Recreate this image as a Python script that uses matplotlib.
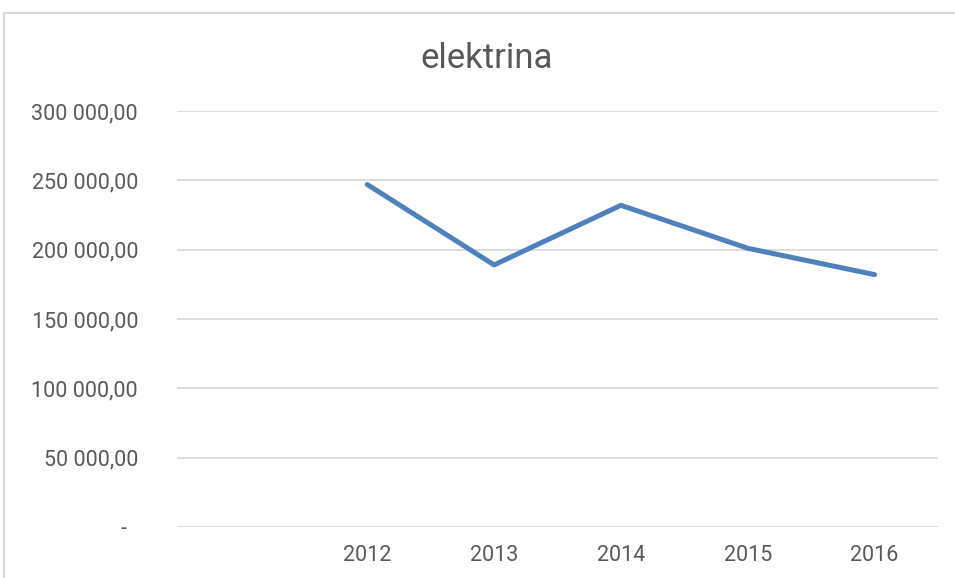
import matplotlib
matplotlib.use("Agg")
import matplotlib.pyplot as plt
from matplotlib.patches import Rectangle

years = ["", "2012", "2013", "2014", "2015", "2016"]
values = [None, 247000, 189000, 232000, 201000, 182000]
yticks = [0, 50000, 100000, 150000, 200000, 250000, 300000]

plt.rcParams["font.family"] = ["Roboto", "DejaVu Sans"]

W, H = 955, 578
fig = plt.figure(figsize=(W / 100, H / 100), dpi=100)

# outer chart border (cut off at right/bottom)
fig.patches.append(Rectangle((4 / W, -0.1), 1.2, 1 - 13 / H + 0.1, transform=fig.transFigure,
                             fill=False, edgecolor="#D9D9D9", linewidth=1.5))

ax = fig.add_axes([177 / W, 1 - 527 / H, (938 - 177) / W, (527 - 111) / H])

xs = [i for i, v in enumerate(values) if v is not None]
ys = [v for v in values if v is not None]
ax.plot(xs, ys, color="#4F81BD", linewidth=3.6, solid_capstyle="round", solid_joinstyle="round", zorder=3)

ax.set_xlim(-0.5, len(years) - 0.5)
ax.set_ylim(0, 300000)
ax.set_xticks(range(len(years)))
ax.set_xticklabels(years)
ax.set_yticks(yticks)


def fmt(v):
    if v == 0:
        return "-  "
    return f"{v:,.2f}".replace(",", " ").replace(".", ",")


ax.set_yticklabels([fmt(v) for v in yticks])
ax.tick_params(axis="y", length=0, pad=28, labelsize=15.5, labelcolor="#595959")
ax.tick_params(axis="x", length=0, pad=13, labelsize=15.5, labelcolor="#595959")
ax.grid(axis="y", color="#D9D9D9", linewidth=1.3)
ax.set_axisbelow(True)
for s in ax.spines.values():
    s.set_visible(False)

fig.text(487 / W, 1 - 58 / H, "elektrina", ha="center", va="center", fontsize=25, color="#595959")

fig.savefig("out.png", dpi=100)
